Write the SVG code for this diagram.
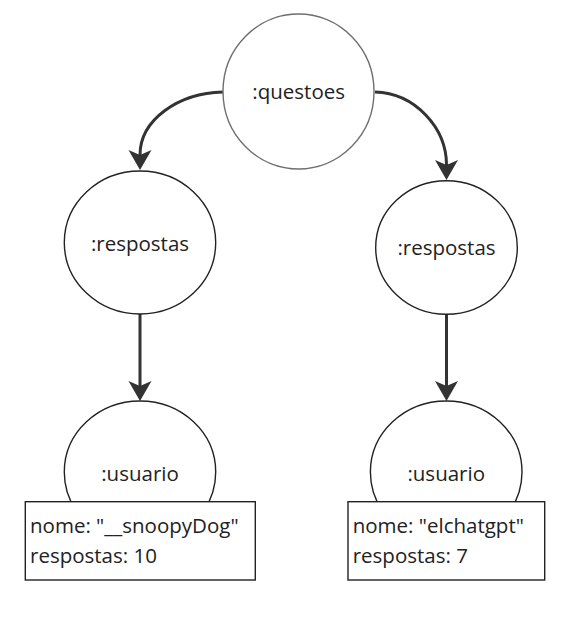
<svg xmlns="http://www.w3.org/2000/svg" width="572" height="621" viewBox="0 0 572 621">
<style>
  .node { fill: #ffffff; stroke: #222222; stroke-width: 1.4; }
  .top { stroke: #6f6f6f; }
  .lbl { font-family: "Open Sans", "Liberation Sans", sans-serif; font-size: 20.5px; fill: #222222; }
  .mid { text-anchor: middle; }
  .edge { fill: none; stroke: #333333; stroke-width: 3; }
</style>
<defs>
  <marker id="arrow" markerUnits="userSpaceOnUse" viewBox="-21 -12 22 24" refX="-15" refY="0" markerWidth="22" markerHeight="24" orient="auto" overflow="visible">
    <path d="M0,0 L-20,-11.5 L-15,0 L-20,11.5 Z" fill="#333333"/>
  </marker>
</defs>
<rect width="572" height="621" fill="#ffffff"/>
<g id="connectors">
  <path class="edge" d="M223,92 C178,93 140,120 140,155" marker-end="url(#arrow)"/>
  <path class="edge" d="M375,92 C415,93 446.5,128 446.5,165" marker-end="url(#arrow)"/>
  <path class="edge" d="M140,314 L140,386" marker-end="url(#arrow)"/>
  <path class="edge" d="M446.5,314 L446.5,386" marker-end="url(#arrow)"/>
</g>
<g id="questoes">
  <ellipse class="node top" cx="298.5" cy="91.5" rx="75.5" ry="77.5"/>
  <text class="lbl mid" x="298.7" y="99">:questoes</text>
</g>
<g id="respostas-left">
  <ellipse class="node" cx="140" cy="242.5" rx="75.7" ry="71.5"/>
  <text class="lbl mid" x="140" y="250.5">:respostas</text>
</g>
<g id="respostas-right">
  <ellipse class="node" cx="446.5" cy="247.5" rx="70.8" ry="66.8"/>
  <text class="lbl mid" x="446.5" y="254.5">:respostas</text>
</g>
<g id="usuario-left">
  <ellipse class="node" cx="140" cy="472" rx="75.7" ry="71"/>
  <text class="lbl mid" x="140" y="481">:usuario</text>
  <rect class="node" x="25.3" y="501.7" width="230" height="78.3"/>
  <text class="lbl" x="30" y="532.5">nome: "__snoopyDog"</text>
  <text class="lbl" x="30" y="562.5">respostas: 10</text>
</g>
<g id="usuario-right">
  <ellipse class="node" cx="446.2" cy="472" rx="75.8" ry="71"/>
  <text class="lbl mid" x="446.2" y="481">:usuario</text>
  <rect class="node" x="348" y="501.7" width="196.7" height="78.3"/>
  <text class="lbl" x="352.7" y="532.5">nome: "elchatgpt"</text>
  <text class="lbl" x="352.7" y="562.5">respostas: 7</text>
</g>
</svg>
